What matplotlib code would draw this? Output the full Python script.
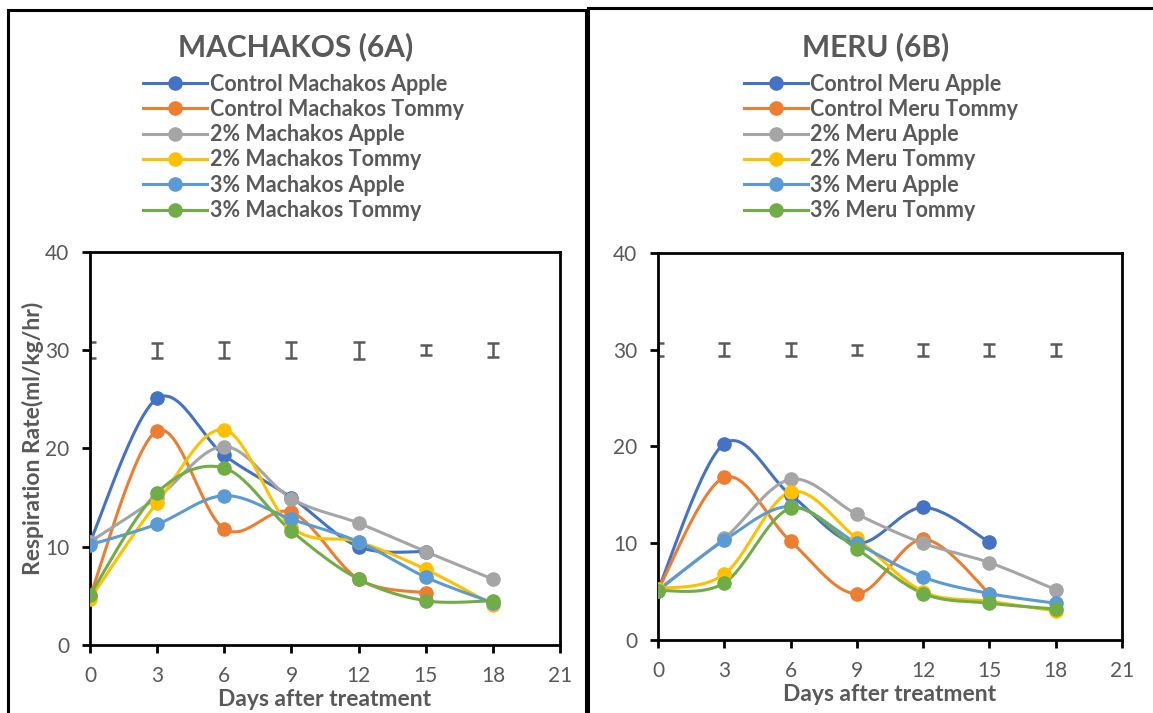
import numpy as np
import matplotlib
matplotlib.use("Agg")
import matplotlib.pyplot as plt
from matplotlib.patches import Rectangle
from matplotlib.lines import Line2D

plt.rcParams['font.family'] = ['Lato', 'DejaVu Sans']

days = [0, 3, 6, 9, 12, 15, 18]
colors = ['#4472C4', '#ED7D31', '#A5A5A5', '#FFC000', '#5B9BD5', '#70AD47']

# Machakos (6A)
mach_labels = ['Control Machakos Apple', 'Control Machakos Tommy', '2% Machakos Apple',
               '2% Machakos Tommy', '3% Machakos Apple', '3% Machakos Tommy']
mach_ctrl_apple = [10.5, 25.1, 19.3, 15.0, 10.0, 9.5]
mach_ctrl_tommy = [5.0, 21.8, 11.8, 13.5, 6.7, 5.3]
mach_2_apple = [10.5, 15.0, 20.2, 14.9, 12.4, 9.5, 6.7]
mach_2_tommy = [4.7, 14.5, 21.9, 12.0, 10.5, 7.7, 4.1]
mach_3_apple = [10.2, 12.3, 15.2, 12.8, 10.5, 6.9, 4.3]
mach_3_tommy = [5.1, 15.5, 18.0, 11.6, 6.7, 4.5, 4.5]
mach_err = [0.8, 0.75, 0.8, 0.8, 0.85, 0.5, 0.7]

# Meru (6B)
meru_labels = ['Control Meru Apple', 'Control Meru Tommy', '2% Meru Apple',
               '2% Meru Tommy', '3% Meru Apple', '3% Meru Tommy']
meru_ctrl_apple = [5.2, 20.3, 15.0, 10.0, 13.7, 10.1]
meru_ctrl_tommy = [5.2, 16.8, 10.2, 4.8, 10.4, 4.8]
meru_2_apple = [5.2, 10.5, 16.6, 13.0, 10.0, 8.0, 5.2]
meru_2_tommy = [5.3, 6.8, 15.3, 10.5, 5.0, 4.0, 3.0]
meru_3_apple = [5.1, 10.3, 13.8, 10.0, 6.5, 4.8, 3.8]
meru_3_tommy = [5.1, 5.9, 13.6, 9.4, 4.8, 3.8, 3.2]
meru_err = [0.65, 0.65, 0.65, 0.5, 0.6, 0.6, 0.6]

err_level = 30
txt = '#595959'


def smooth(x, y, n=30):
    # excel-like bezier smoothing through the points
    x = np.asarray(x, float)
    y = np.asarray(y, float)
    px = np.concatenate([[x[0]], x, [x[-1]]])
    py = np.concatenate([[y[0]], y, [y[-1]]])
    t = np.linspace(0, 1, n)
    xs, ys = [], []
    for i in range(len(x) - 1):
        p0 = np.array([px[i + 1], py[i + 1]])
        p3 = np.array([px[i + 2], py[i + 2]])
        p1 = p0 + (np.array([px[i + 2], py[i + 2]]) - np.array([px[i], py[i]])) / 6
        p2 = p3 - (np.array([px[i + 3], py[i + 3]]) - np.array([px[i + 1], py[i + 1]])) / 6
        b = ((1 - t) ** 3)[:, None] * p0 + (3 * (1 - t) ** 2 * t)[:, None] * p1 \
            + (3 * (1 - t) * t ** 2)[:, None] * p2 + (t ** 3)[:, None] * p3
        xs.append(b[:, 0])
        ys.append(b[:, 1])
    return np.concatenate(xs), np.concatenate(ys)


def draw(ax, series, labels, err, title, title_x, leg_x, ylabel):
    for vals, c in zip(series, colors):
        xd = days[:len(vals)]
        sx, sy = smooth(xd, vals)
        ax.plot(sx, sy, color=c, lw=2.2, zorder=3)
        ax.plot(xd, vals, 'o', color=c, ms=9.5, zorder=4)
    ax.errorbar(days, [err_level] * len(days), yerr=err, fmt='none', ecolor='#595959',
                elinewidth=1.8, capsize=4.5, capthick=1.8, zorder=2)
    ax.set_xlim(0, 21)
    ax.set_ylim(0, 40)
    ax.set_xticks(range(0, 22, 3))
    ax.set_yticks(range(0, 41, 10))
    for s in ax.spines.values():
        s.set_linewidth(2)
        s.set_color('black')
    ax.tick_params(direction='out', length=6, width=2, colors='black',
                   labelcolor=txt, labelsize=15, pad=9)
    ax.set_xlabel('Days after treatment', fontsize=16.5, fontweight='bold', color=txt, labelpad=2)
    if ylabel:
        fig.text(0.029, 0.385, ylabel, rotation=90, fontsize=16.5, fontweight='bold',
                 color=txt, ha='center', va='center')
    fig.text(title_x, 0.935, title, fontsize=21.5, fontweight='bold', color=txt,
             ha='center', va='center')
    handles = [Line2D([], [], color=c, lw=2.2, marker='o', ms=9.5) for c in colors]
    fig.legend(handles, labels, loc='upper center', bbox_to_anchor=(leg_x, 0.912),
               frameon=False, labelcolor=txt, handlelength=3.0,
               handletextpad=0.1, labelspacing=0.2, borderpad=0,
               prop={'weight': 'bold', 'size': 15.5})


fig = plt.figure(figsize=(11.53, 7.13), dpi=100)
ax1 = fig.add_axes([0.0781, 0.0954, 0.4076, 0.5512])
ax2 = fig.add_axes([0.5707, 0.1024, 0.4024, 0.5428])

draw(ax1, [mach_ctrl_apple, mach_ctrl_tommy, mach_2_apple, mach_2_tommy, mach_3_apple, mach_3_tommy],
     mach_labels, mach_err, 'MACHAKOS (6A)', 0.256, 0.263, 'Respiration Rate(ml/kg/hr)')
draw(ax2, [meru_ctrl_apple, meru_ctrl_tommy, meru_2_apple, meru_2_tommy, meru_3_apple, meru_3_tommy],
     meru_labels, meru_err, 'MERU (6B)', 0.759, 0.764, None)

# panel frames
fig.patches.append(Rectangle((0.007, -0.01), 0.501, 0.996, transform=fig.transFigure,
                             fill=False, ec='black', lw=2.2))
fig.patches.append(Rectangle((0.510, -0.01), 0.6, 0.999, transform=fig.transFigure,
                             fill=False, ec='black', lw=2.2))

fig.savefig('out.png', dpi=100)
